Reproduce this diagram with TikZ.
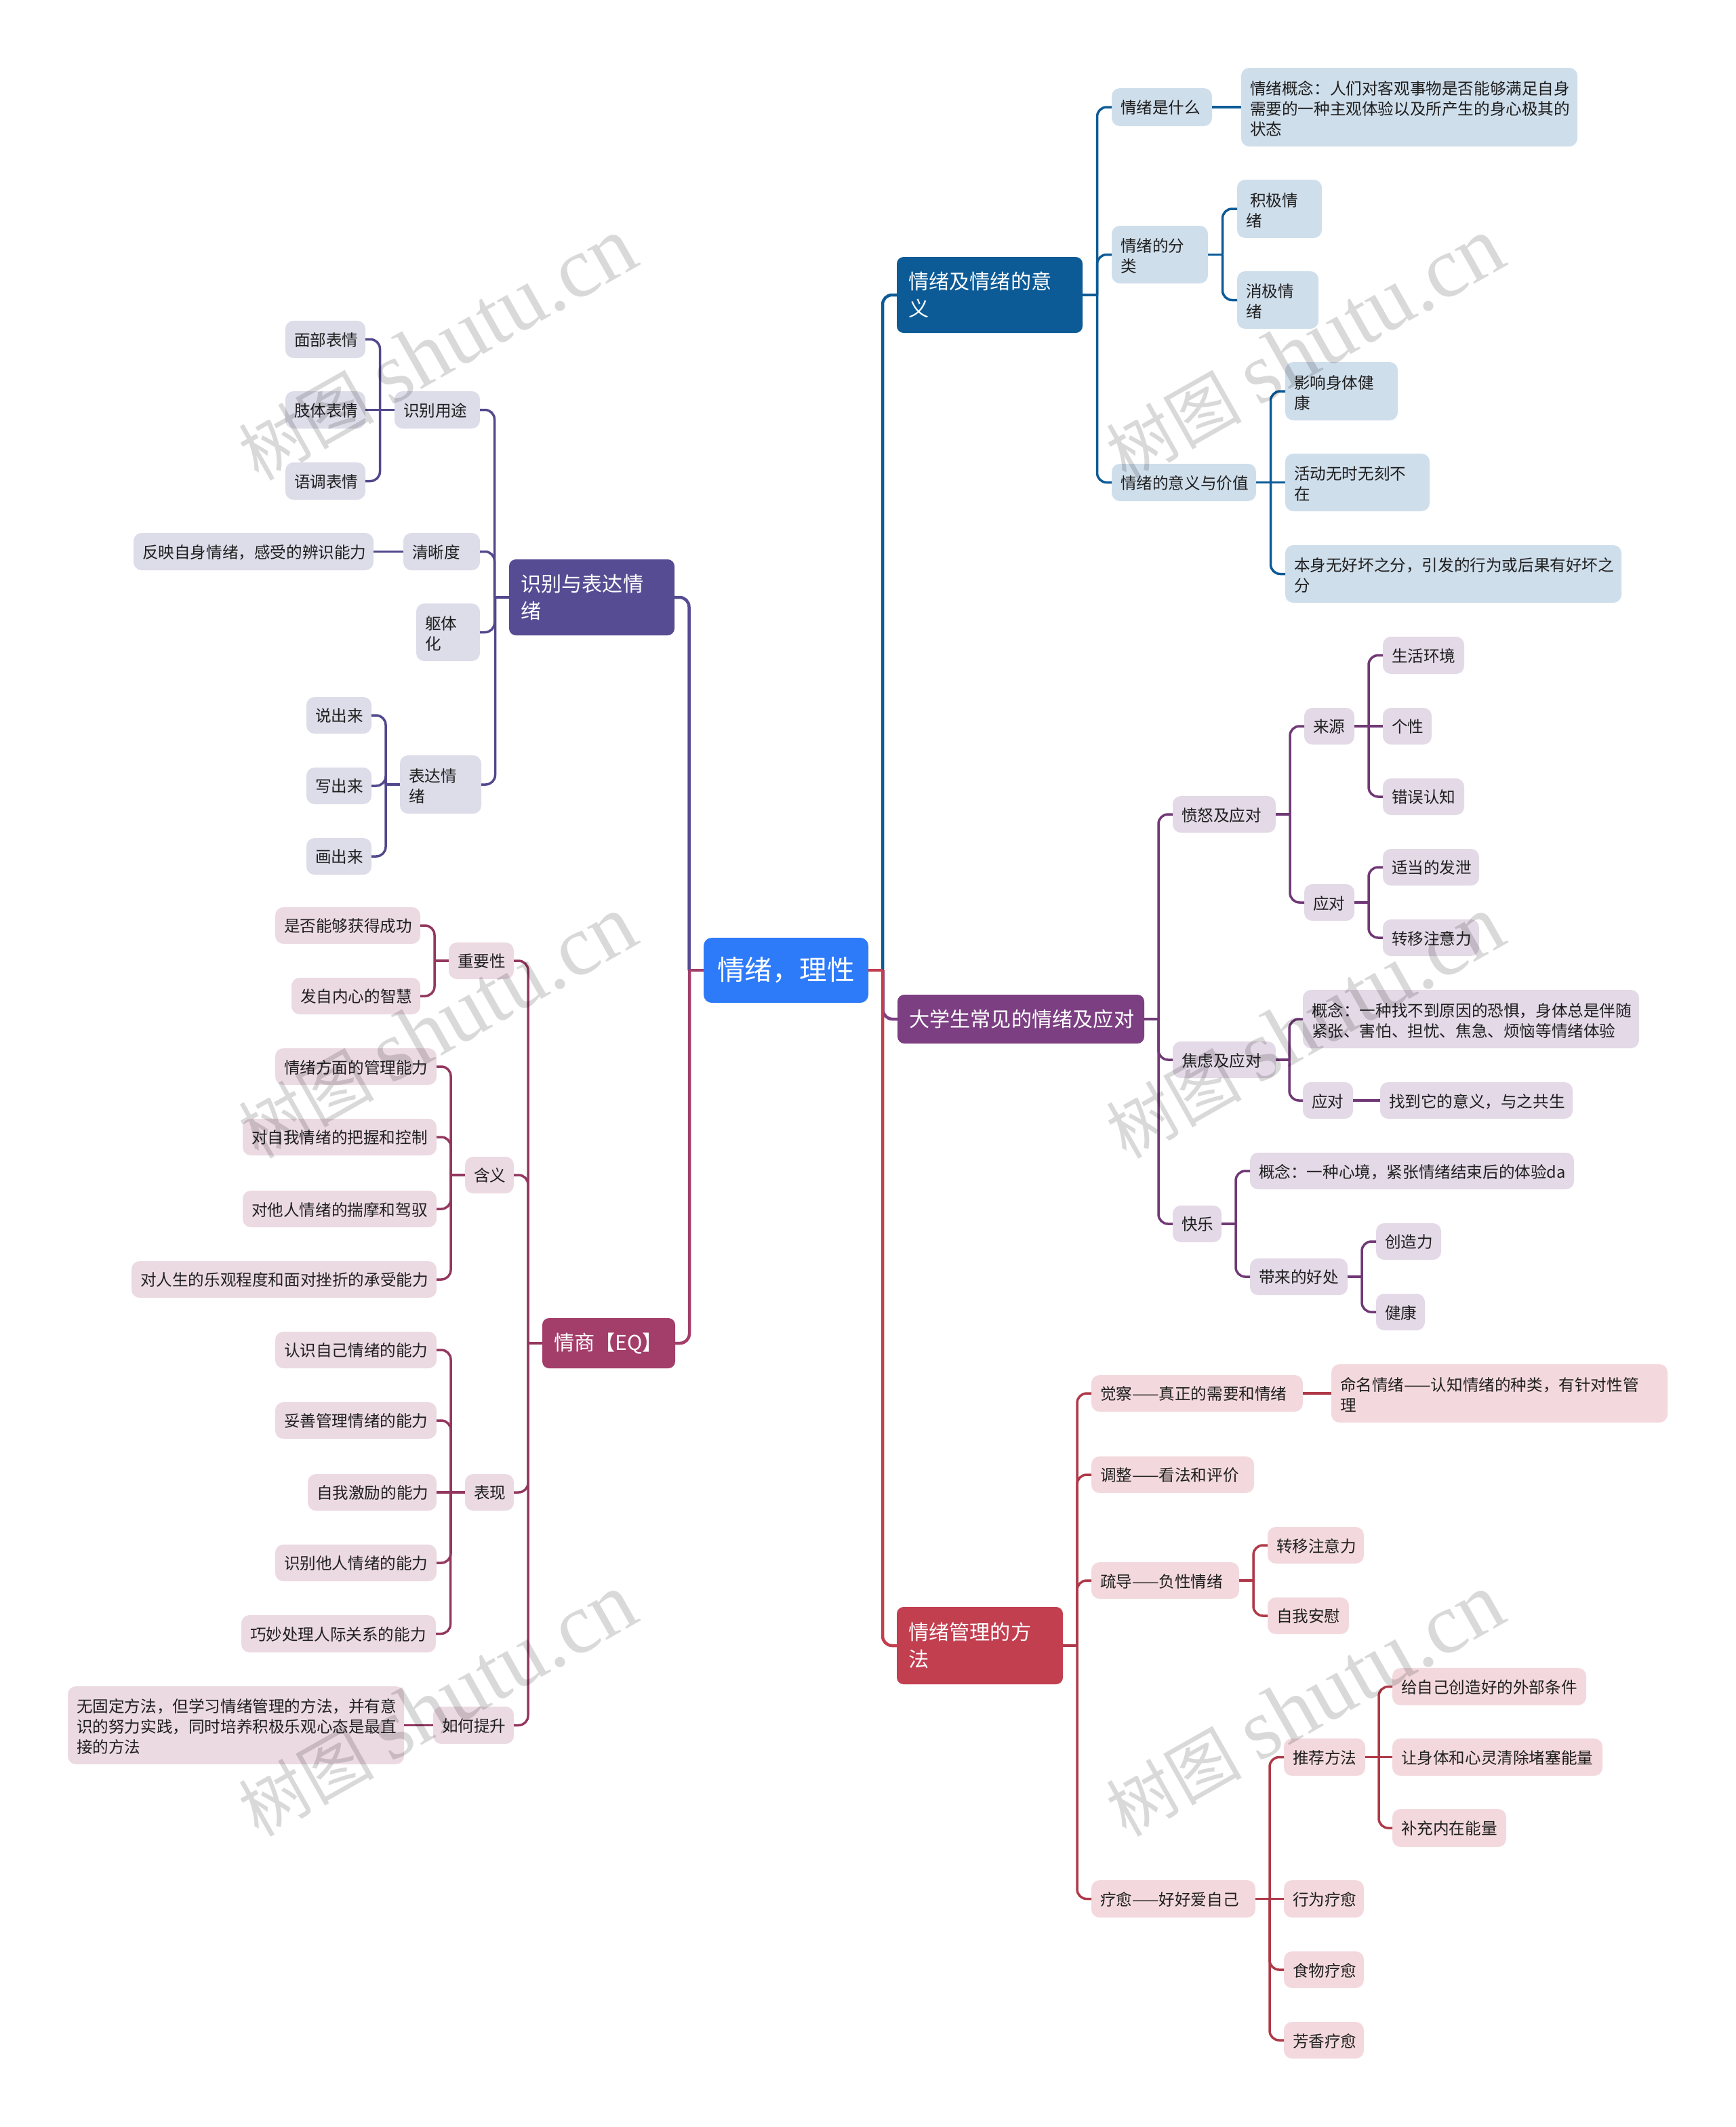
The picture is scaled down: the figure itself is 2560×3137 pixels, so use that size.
\documentclass[tikz,border=0pt]{standalone}
\usepackage{fontspec}
\setmainfont{Noto Sans CJK SC}
\newfontfamily\markfont{Liberation Serif}
\usetikzlibrary{calc}

\definecolor{rootblue}{HTML}{2E7BFA}
\definecolor{blueline}{HTML}{0C5B97}
\definecolor{bluepale}{HTML}{CFDEEB}
\definecolor{purpleline}{HTML}{7C3F82}
\definecolor{purplepale}{HTML}{E3D9E7}
\definecolor{redline}{HTML}{C23F50}
\definecolor{redpale}{HTML}{F3D9DD}
\definecolor{indigoline}{HTML}{564C93}
\definecolor{indigopale}{HTML}{DDDCE9}
\definecolor{maroonline}{HTML}{A33D69}
\definecolor{maroonpale}{HTML}{ECDAE2}

\tikzset{
  mapbox/.style = {rectangle, inner ysep=0pt, outer sep=0pt, align=left},
  leaf/.style = {mapbox, rounded corners=12pt, text=black!88,
    font=\fontsize{23.6}{30}\selectfont, execute at end node={\vspace{-4pt}}},
  topic/.style = {mapbox, rounded corners=10pt, text=white,
    font=\fontsize{30.2}{40}\selectfont},
  centre/.style = {mapbox, rounded corners=12pt, text=white, align=center,
    font=\fontsize{40.6}{50}\selectfont},
  link/.style = {line width=3.5pt},
  mainlink/.style = {line width=4.5pt},
  watermark/.style = {black, opacity=0.15, rotate=29.5}
}

% list items: name/left/top/right/bottom/text
\newcommand{\mapboxes}[3]{
  \foreach \id/\xa/\ya/\xb/\yb/\txt in {#3}{
    \pgfmathsetmacro{\tw}{\xb-\xa-2*#2}
    \pgfmathsetmacro{\th}{\yb-\ya}
    \node(\id) [#1, inner xsep=#2pt, text width=\tw pt, minimum height=\th pt]
      at ({(\xa+\xb)/2},{(\ya+\yb)/2}) {\txt};
  }
}
% list items: parent/child
\newcommand{\maplinks}[4]{
  \foreach \a/\b in {#4}{
    \coordinate (mid) at ($(\a.#2)!0.5!(\a.#2 -| \b.#3)$);
    \draw[#1] (\a.#2) -- (mid);
    \draw[#1, rounded corners=14pt] (mid) |- (\b.#3);
  }
}
% child level with its parent
\newcommand{\mapstraight}[4]{
  \foreach \a/\b in {#4}{
    \draw[#1] (\a.#2) -- (\b.#3);
  }
}

\begin{document}
\begin{tikzpicture}[x=1pt,y=-1pt]
  \useasboundingbox (0,0) rectangle (2560,3137);

  \mapboxes{centre,fill=rootblue}{10}{root/1038/1383/1281/1479/情绪，理性}

  % upper right
  \mapboxes{topic,fill=blueline}{17}{
    meaning/1323/379/1597/491/情绪及情绪的意\\义}
  \mapboxes{leaf,fill=bluepale}{13}{
    what/1640/130/1788/186/情绪是什么,
    whatText/1831/100/2327/216/情绪概念：人们对客观事物是否能够满足自身\\需要的一种主观体验以及所产生的身心极其的\\状态,
    kinds/1640/333/1782/418/情绪的分\\类,
    plus/1825/265/1950/351/\hspace*{6pt}积极情\\绪,
    minus/1825/400/1945/485/消极情\\绪,
    value/1640/684/1853/739/情绪的意义与价值,
    health/1896/534/2062/620/影响身体健\\康,
    always/1896/669/2109/754/活动无时无刻不\\在,
    neutral/1896/804/2392/889/本身无好坏之分，引发的行为或后果有好坏之\\分}
  \maplinks{mainlink,blueline}{east}{west}{root/meaning}
  \maplinks{link,blueline}{east}{west}{meaning/what,meaning/kinds,meaning/value,
    kinds/plus,kinds/minus,value/health,value/neutral}
  \mapstraight{link,blueline}{east}{west}{what/whatText,value/always}

  % middle right
  \mapboxes{topic,fill=purpleline}{17}{
    common/1324/1467/1688/1539/大学生常见的情绪及应对}
  \mapboxes{leaf,fill=purplepale}{13}{
    anger/1730/1174/1882/1228/愤怒及应对,
    source/1924/1044/1998/1098/来源,
    env/2040/939/2160/994/生活环境,
    trait/2040/1044/2112/1098/个性,
    belief/2040/1148/2160/1202/错误认知,
    cope/1924/1304/1998/1358/应对,
    vent/2040/1252/2182/1306/适当的发泄,
    shift/2040/1356/2182/1410/转移注意力,
    worry/1730/1536/1882/1590/焦虑及应对,
    worryText/1922/1460/2418/1546/概念：一种找不到原因的恐惧，身体总是伴随\\紧张、害怕、担忧、焦急、烦恼等情绪体验,
    worryCope/1922/1596/1996/1650/应对,
    sense/2036/1596/2320/1650/找到它的意义，与之共生,
    joy/1730/1778/1802/1832/快乐,
    joyText/1844/1700/2322/1754/概念：一种心境，紧张情绪结束后的体验da,
    gain/1844/1856/1988/1910/带来的好处,
    create/2030/1804/2126/1858/创造力,
    fit/2030/1908/2102/1962/健康}
  \maplinks{mainlink,purpleline}{east}{west}{root/common}
  \maplinks{link,purpleline!90!black}{east}{west}{common/anger,common/worry,common/joy,
    anger/source,anger/cope,source/env,source/belief,cope/vent,cope/shift,
    worry/worryText,worry/worryCope,joy/joyText,joy/gain,gain/create,gain/fit}
  \mapstraight{link,purpleline!90!black}{east}{west}{source/trait,worryCope/sense}

  % lower right
  \mapboxes{topic,fill=redline}{17}{
    manage/1323/2370/1568/2484/情绪管理的方\\法}
  \mapboxes{leaf,fill=redpale}{13}{
    aware/1610/2028/1922/2082/觉察——真正的需要和情绪,
    naming/1964/2012/2460/2098/命名情绪——认知情绪的种类，有针对性管\\理,
    adjust/1610/2148/1850/2202/调整——看法和评价,
    guide/1610/2304/1828/2358/疏导——负性情绪,
    guideA/1870/2252/2012/2306/转移注意力,
    guideB/1870/2356/1990/2410/自我安慰,
    heal/1610/2773/1852/2828/疗愈——好好爱自己,
    advice/1894/2564/2014/2619/推荐方法,
    outer/2054/2460/2340/2515/给自己创造好的外部条件,
    clear/2054/2564/2364/2619/让身体和心灵清除堵塞能量,
    refill/2054/2668/2222/2724/补充内在能量,
    act/1894/2773/2012/2828/行为疗愈,
    food/1894/2878/2012/2932/食物疗愈,
    scent/1894/2982/2012/3036/芳香疗愈}
  \maplinks{mainlink,redline}{east}{west}{root/manage}
  \maplinks{link,redline!90!black}{east}{west}{manage/aware,manage/adjust,manage/guide,manage/heal,
    guide/guideA,guide/guideB,heal/advice,heal/food,heal/scent,
    advice/outer,advice/refill}
  \mapstraight{link,redline!90!black}{east}{west}{aware/naming,heal/act,advice/clear}

  % upper left
  \mapboxes{topic,fill=indigoline}{17}{
    express/751/825/995/937/识别与表达情\\绪}
  \mapboxes{leaf,fill=indigopale}{13}{
    use/582/577/708/632/识别用途,
    face/421/473/539/528/面部表情,
    body/421/577/539/632/肢体表情,
    tone/421/682/539/737/语调表情,
    clarity/595/786/708/841/清晰度,
    clarityText/197/786/551/841/反映自身情绪，感受的辨识能力,
    somatic/614/890/708/975/躯体\\化,
    say/590/1114/710/1200/表达情\\绪,
    speak/452/1028/548/1082/说出来,
    write/452/1132/548/1186/写出来,
    paint/452/1236/548/1290/画出来}
  \maplinks{mainlink,indigoline}{west}{east}{root/express}
  \maplinks{link,indigoline!95!black}{west}{east}{express/use,express/clarity,express/somatic,express/say,
    use/face,use/tone,say/speak,say/write,say/paint}
  \mapstraight{link,indigoline!95!black}{west}{east}{use/body,clarity/clarityText}

  % lower left
  \mapboxes{topic,fill=maroonline}{17}{
    eq/800/1944/996/2018/情商【EQ】}
  \mapboxes{leaf,fill=maroonpale}{13}{
    role/662/1390/758/1444/重要性,
    win/406/1338/620/1392/是否能够获得成功,
    wise/430/1442/620/1496/发自内心的智慧,
    sense2/686/1706/758/1760/含义,
    skillA/406/1546/644/1600/情绪方面的管理能力,
    skillB/358/1650/644/1704/对自我情绪的把握和控制,
    skillC/358/1756/644/1810/对他人情绪的揣摩和驾驭,
    skillD/194/1860/644/1914/对人生的乐观程度和面对挫折的承受能力,
    show/686/2174/758/2228/表现,
    showA/406/1964/644/2018/认识自己情绪的能力,
    showB/406/2068/644/2122/妥善管理情绪的能力,
    showC/454/2174/644/2228/自我激励的能力,
    showD/406/2278/644/2332/识别他人情绪的能力,
    showE/356/2382/643/2437/巧妙处理人际关系的能力,
    raise/639/2517/758/2572/如何提升,
    raiseText/100/2487/596/2602/无固定方法，但学习情绪管理的方法，并有意\\识的努力实践，同时培养积极乐观心态是最直\\接的方法}
  \maplinks{mainlink,maroonline}{west}{east}{root/eq}
  \maplinks{link,maroonline!90!black}{west}{east}{eq/role,eq/sense2,eq/show,eq/raise,
    role/win,role/wise,sense2/skillA,sense2/skillB,sense2/skillC,sense2/skillD,
    show/showA,show/showB,show/showD,show/showE}
  \mapstraight{link,maroonline!90!black}{west}{east}{show/showC,raise/raiseText}

  % shutu marks
  \foreach \x in {645,1925}{
    \foreach \y in {515,1515,2515}{
      \node(mark\x\y) [watermark] at (\x,\y)
        {\fontsize{100}{100}\selectfont 树图\hspace{24pt}\fontsize{127}{127}\selectfont\markfont shutu.cn};
    }
  }
\end{tikzpicture}
\end{document}
